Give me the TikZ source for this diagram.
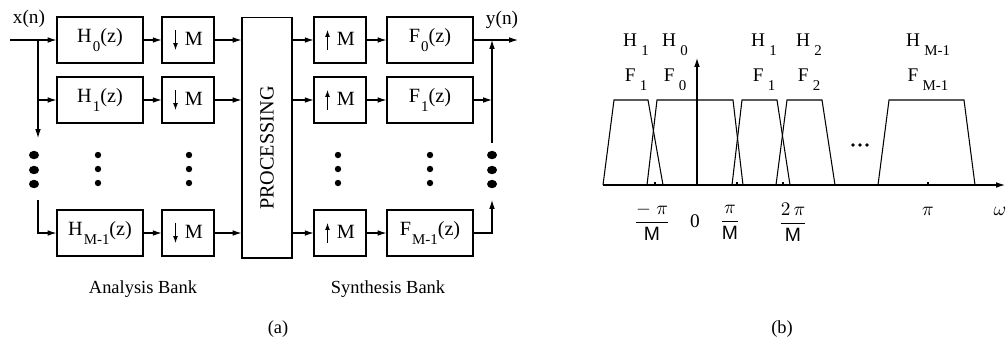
\documentclass[tikz,border=0pt]{standalone}
\usepackage{fontspec}
\setmainfont{Liberation Serif}
\setsansfont{Liberation Sans}
\usetikzlibrary{arrows.meta,positioning}
\newcommand{\lowidx}[1]{\kern0.6pt\raisebox{-1.05ex}{\fontsize{8.5}{9}\selectfont #1}}
\newcommand{\bandfrac}[1]{$\displaystyle\frac{#1}{\textsf{M}}$}
\newcommand{\downtip}{\tikz[baseline=0pt]\draw[-{Latex[length=4pt,width=2.8pt]},line width=0.6pt] (0pt,9pt) -- (0pt,-2.5pt);}
\newcommand{\uptip}{\tikz[baseline=0pt]\draw[-{Latex[length=4pt,width=2.8pt]},line width=0.6pt] (0pt,-2.5pt) -- (0pt,9pt);}

\begin{document}
\begin{tikzpicture}[x=0.02cm,y=-0.02cm,line width=0.6pt,>={Latex[length=5pt,width=3.2pt]},
  blk/.style={draw,minimum width=1.72cm,minimum height=0.92cm,inner sep=0pt,font=\fontsize{11.5}{13}\selectfont},
  rate/.style={draw,minimum width=1.04cm,minimum height=0.92cm,inner sep=0pt,font=\fontsize{11.5}{13}\selectfont},
  lbl/.style={inner sep=0pt,font=\fontsize{11}{13}\selectfont},
  captxt/.style={inner sep=0pt,font=\fontsize{10.5}{12}\selectfont}]
\useasboundingbox (0,0) rectangle (1006,343);
\node[blk] (h0) at (100,40) {H\lowidx{0}(z)};
\node[blk] (h1) at (100,100) {H\lowidx{1}(z)};
\node[blk] (hm) at (100,233) {H\lowidx{M-1}(z)};
\node[rate] (d0) at (188,40) {\downtip\hspace{4pt}M};
\node[rate] (d1) at (188,100) {\downtip\hspace{4pt}M};
\node[rate] (dm) at (188,233) {\downtip\hspace{4pt}M};
\node[draw,minimum width=1cm,minimum height=4.82cm,inner sep=0pt] (proc) at (267,137.5) {\rotatebox{90}{\fontsize{11.5}{13}\selectfont PROCESSING\hspace{12pt}}};
\node[rate] (u0) at (340,40) {\uptip\hspace{4pt}M};
\node[rate] (u1) at (340,100) {\uptip\hspace{4pt}M};
\node[rate] (um) at (340,233) {\uptip\hspace{4pt}M};
\node[blk] (f0) at (430,40) {F\lowidx{0}(z)};
\node[blk] (f1) at (430,100) {F\lowidx{1}(z)};
\node[blk] (fm) at (430,233) {F\lowidx{M-1}(z)};
\node[lbl] (xn) at (29,19) {x(n)};
\node[lbl] (yn) at (502,20) {y(n)};
\coordinate (xin) at (10,40);
\coordinate (sp) at (38,40);
\coordinate (sd) at (38,138);
\coordinate (sm) at (38,200);
\coordinate (sum) at (492,40);
\coordinate (s1) at (492,100);
\coordinate (stop) at (492,143);
\coordinate (sbot) at (492,200);
\coordinate (yout) at (518,40);
\draw (xin) -- (sp);
\draw[->] (sp) -- (h0.west);
\draw[->] (sp) -- (sd);
\draw[->] (sp |- h1) -- (h1.west);
\draw[->] (sm) |- (hm.west);
\foreach \r in {0,1,m}{
  \draw[->] (h\r) -- (d\r);
  \draw[->] (d\r) -- (d\r -| proc.west);
  \draw[->] (u\r -| proc.east) -- (u\r);
  \draw[->] (u\r) -- (f\r);
}
\draw[->] (f0) -- (yout);
\draw[->] (f1) -- (s1);
\draw[->] (stop) -- (sum);
\draw[->] (fm.east) -| (sbot);
\foreach \x in {98,189,338,430}
  \foreach \y in {155,169,183} \fill (\x,\y) circle (3.2);
\foreach \x in {34,492}
  \foreach \y in {155,170,184} \fill (\x,\y) ellipse (5 and 4.2);
\node[captxt] (ab) at (143,289) {Analysis Bank};
\node[captxt] (sb) at (388,289) {Synthesis Bank};
\node[captxt] (pa) at (278,329) {(a)};
\node[captxt] (pb) at (782,329) {(b)};
\draw[->] (603,185) -- (1005,185);
\draw[->] (697,185) -- (697,58);
\draw (603,185) -- (614,100) -- (648,100) -- (663,185);
\draw (647,185) -- (657,100) -- (733,100) -- (743,185);
\draw (732,185) -- (742,100) -- (777,100) -- (790,185);
\draw (776,185) -- (787,100) -- (822,100) -- (835,185);
\draw (878,185) -- (889,100) -- (964,100) -- (975,185);
\foreach \x in {655,737,783,928} \draw (\x,185) -- (\x,182);
\foreach \x in {853,860,867} \fill (\x,145) circle (1.8);
\node[lbl] (lh1) at (636,45) {H\,\lowidx{1}};
\node[lbl] (lh0) at (675,45) {H\,\lowidx{0}};
\node[lbl] (lf1) at (636,80) {F\,\lowidx{1}};
\node[lbl] (lf0) at (675,80) {F\,\lowidx{0}};
\node[lbl] (rh1) at (764,45) {H\,\lowidx{1}};
\node[lbl] (rh2) at (809,45) {H\,\lowidx{2}};
\node[lbl] (rf1) at (764,80) {F\,\lowidx{1}};
\node[lbl] (rf2) at (809,80) {F\,\lowidx{2}};
\node[lbl] (hm1) at (928,45) {H\,\lowidx{M-1}};
\node[lbl] (fm1) at (928,80) {F\,\lowidx{M-1}};
\node[lbl] (tm) at (652,222) {\bandfrac{-\;\pi}};
\node[lbl] (tz) at (695,221) {0};
\node[lbl] (tp) at (730,222) {\bandfrac{\pi}};
\node[lbl] (t2) at (793,222) {\bandfrac{2\,\pi}};
\node[lbl] (tpi) at (928,211) {$\pi$};
\node[lbl] (tw) at (1000,211) {$\omega$};
\end{tikzpicture}
\end{document}
